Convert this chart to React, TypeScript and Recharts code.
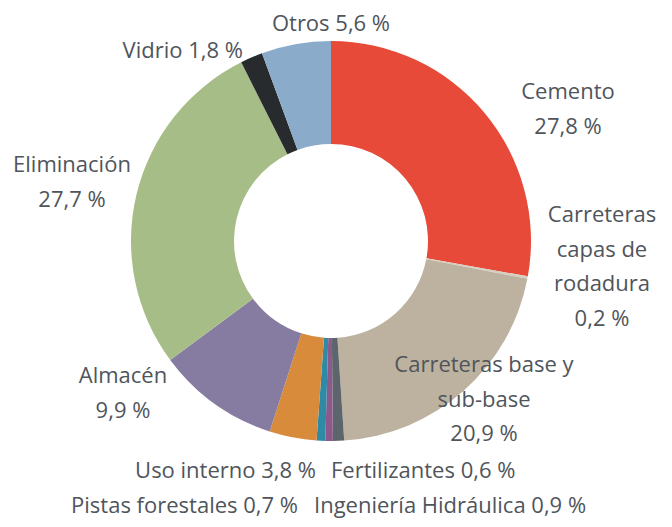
import { type ReactElement } from 'react'
import { PieChart, Pie, Cell } from 'recharts'

// clockwise from 12 o'clock
const names = [
  'Cemento',
  'Carreteras capas de rodadura',
  'Carreteras base y sub-base',
  'Ingeniería Hidráulica',
  'Fertilizantes',
  'Pistas forestales',
  'Uso interno',
  'Almacén',
  'Eliminación',
  'Vidrio',
  'Otros',
]
const shares = [27.8, 0.2, 20.9, 0.9, 0.6, 0.7, 3.8, 9.9, 27.7, 1.8, 5.6]
const labels = [
  ['Cemento', '27,8 %'],
  ['Carreteras', 'capas de', 'rodadura', '0,2 %'],
  ['Carreteras base y', 'sub-base', '20,9 %'],
  ['Ingeniería Hidráulica 0,9 %'],
  ['Fertilizantes 0,6 %'],
  ['Pistas forestales 0,7 %'],
  ['Uso interno 3,8 %'],
  ['Almacén', '9,9 %'],
  ['Eliminación', '27,7 %'],
  ['Vidrio 1,8 %'],
  ['Otros 5,6 %'],
]

const colors = [
  '#e84a3a', '#d6cebe', '#bcb29f', '#5c656b', '#8b5a8b', '#2f8aa6',
  '#d98b3c', '#867ba0', '#a6bd87', '#272b2e', '#8aabca',
]

// label anchor points (x, first baseline, text-anchor)
const labelPos: [number, number, 'start' | 'middle' | 'end'][] = [
  [568, 99, 'middle'],
  [602, 222, 'middle'],
  [484, 372, 'middle'],
  [314, 513, 'start'],
  [331, 478, 'start'],
  [298, 513, 'end'],
  [316, 478, 'end'],
  [123, 383, 'middle'],
  [72, 172, 'middle'],
  [243, 58, 'end'],
  [331, 31, 'middle'],
]

const data = names.map((name, i) => ({ name, value: shares[i] }))

const LINE = 34.5

function renderLabel(props: { index: number }): ReactElement {
  const [x, y, anchor] = labelPos[props.index]
  return (
    <text
      key={`lbl-${props.index}`}
      x={x}
      y={y}
      textAnchor={anchor}
      fill="#50555b"
      fontSize={22}
      fontFamily="'Open Sans', sans-serif"
    >
      {labels[props.index].map((line, j) => (
        <tspan key={j} x={x} y={y + j * LINE}>
          {line}
        </tspan>
      ))}
    </text>
  )
}

export default function App(): ReactElement {
  return (
    <div style={{ position: 'absolute', left: 0, top: 0, background: '#fff' }}>
      <PieChart width={672} height={527} margin={{ top: 0, right: 0, bottom: 0, left: 0 }}>
        <Pie
          data={data}
          dataKey="value"
          nameKey="name"
          cx={331}
          cy={241}
          outerRadius={200}
          innerRadius={97}
          startAngle={90}
          endAngle={-270}
          stroke="none"
          label={renderLabel}
          labelLine={false}
          isAnimationActive={false}
        >
          {data.map((d, i) => (
            <Cell key={d.name} fill={colors[i]} />
          ))}
        </Pie>
      </PieChart>
    </div>
  )
}
